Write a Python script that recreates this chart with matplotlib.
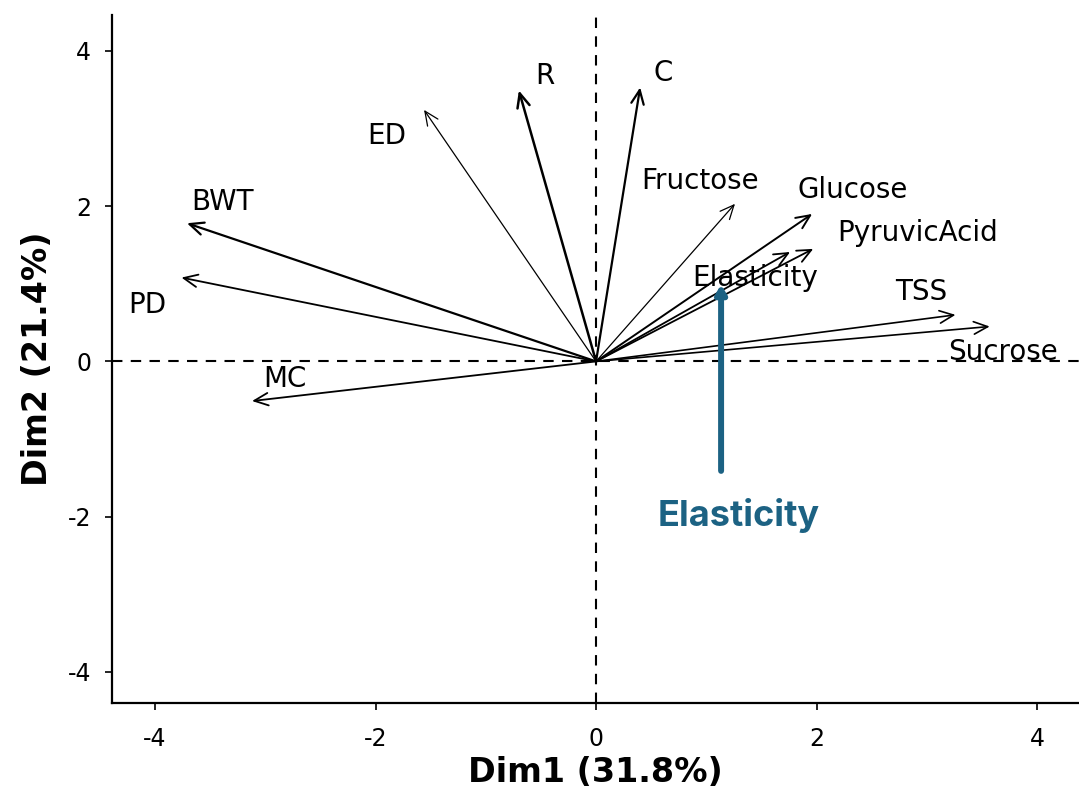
import matplotlib
matplotlib.use("Agg")
import matplotlib.pyplot as plt

# variable loadings (Dim1, Dim2)
names = ["C", "R", "ED", "BWT", "PD", "MC", "Fructose", "Glucose",
         "PyruvicAcid", "Elasticity", "TSS", "Sucrose"]
dim1 = [0.40, -0.70, -1.56, -3.71, -3.76, -3.12, 1.26, 1.96, 1.97, 1.76, 3.26, 3.57]
dim2 = [3.53, 3.49, 3.24, 1.78, 1.08, -0.51, 2.03, 1.90, 1.45, 1.41, 0.60, 0.45]
# label positions
lab_x = [0.61, -0.46, -1.90, -3.39, -4.07, -2.82, 0.94, 2.33, 2.92, 1.44, 2.95, 3.69]
lab_y = [3.72, 3.68, 2.91, 2.05, 0.73, -0.22, 2.33, 2.21, 1.65, 1.08, 0.90, 0.12]
widths = [1.6, 1.8, 0.9, 1.6, 1.3, 1.3, 0.9, 1.4, 1.3, 1.3, 1.2, 1.2]

ticks = [-4, -2, 0, 2, 4]
highlight = "Elasticity"
hl_start = (1.134, -1.41)
hl_color = "#1c6283"

sans = ["DejaVu Sans"]

fig = plt.figure(figsize=(10.79, 7.98), dpi=100)
ax = fig.add_axes([0.1038, 0.119, 0.8962, 0.862])

ax.axhline(0, color="black", lw=1.5, ls=(0, (5, 4)), zorder=1)
ax.axvline(0, color="black", lw=1.5, ls=(0, (5, 4)), zorder=1)

for n, x, y, lx, ly, w in zip(names, dim1, dim2, lab_x, lab_y, widths):
    ax.annotate("", xy=(x, y), xytext=(0, 0),
                arrowprops=dict(arrowstyle="->,head_length=1.0,head_width=0.45",
                                color="black", lw=w, shrinkA=0, shrinkB=0),
                zorder=2)
    ax.text(lx, ly, n, fontsize=20, family=sans, ha="center", va="center", zorder=3)

# highlight arrow
ax.annotate("", xy=(hl_start[0], 0.99), xytext=hl_start,
            arrowprops=dict(arrowstyle="-|>,head_length=0.5,head_width=0.3",
                            color=hl_color, lw=4.3, shrinkA=0, shrinkB=0),
            zorder=4)
ax.text(1.29, -1.99, highlight, color=hl_color, fontsize=26, fontweight="bold",
        family=["Inter", "DejaVu Sans"], ha="center", va="center", zorder=4)

ax.set_xlim(-4.39, 4.38)
ax.set_ylim(-4.40, 4.46)
ax.set_xticks(ticks)
ax.set_yticks(ticks)
ax.set_xticklabels([str(t) for t in ticks], family=sans, fontsize=17)
ax.set_yticklabels([str(t) for t in ticks], family=sans, fontsize=17)
ax.tick_params(length=5, width=1.2)
ax.tick_params(axis="x", pad=12)
ax.tick_params(axis="y", pad=10)
for s in ["top", "right"]:
    ax.spines[s].set_visible(False)
for s in ["left", "bottom"]:
    ax.spines[s].set_linewidth(1.6)

ax.set_xlabel("Dim1 (31.8%)", fontsize=24, fontweight="bold", family=sans, labelpad=4)
ax.set_ylabel("Dim2 (21.4%)", fontsize=24, fontweight="bold", family=sans, labelpad=10)

fig.savefig("out.png", dpi=100)
